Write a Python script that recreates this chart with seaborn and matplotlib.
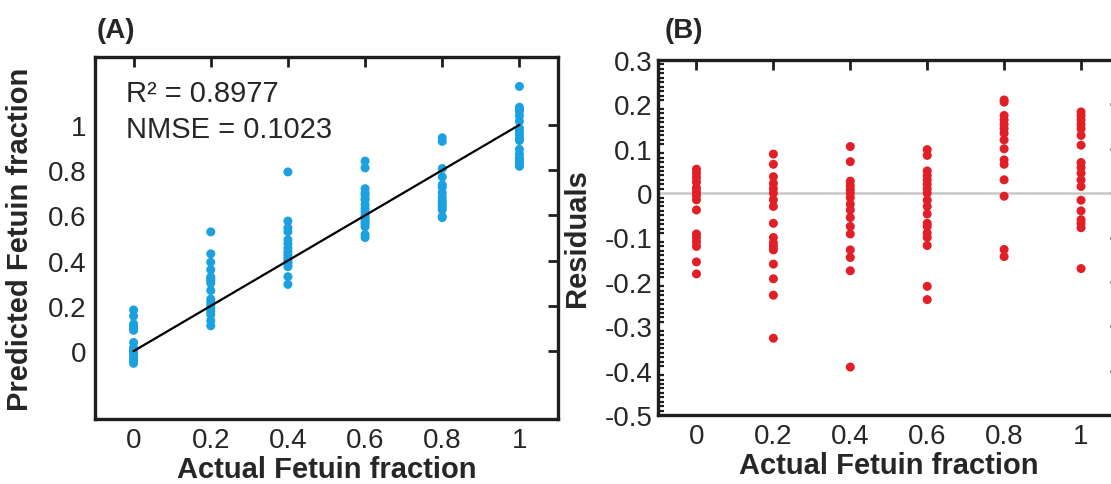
import numpy as np
import pandas as pd
import matplotlib
matplotlib.use("Agg")
import matplotlib.pyplot as plt
from matplotlib.ticker import MultipleLocator, FixedLocator, FuncFormatter
import seaborn as sns

# ---------------- data ----------------
actual_levels = [0.0, 0.2, 0.4, 0.6, 0.8, 1.0]

pred_00 = [-0.054, -0.045, -0.035, -0.025, -0.012, -0.003, 0.005, 0.015, 0.038,
           0.092, 0.10, 0.11, 0.12, 0.155, 0.182]
pred_02 = [0.112, 0.135, 0.163, 0.178, 0.19, 0.2, 0.215, 0.23, 0.268, 0.30,
           0.312, 0.32, 0.328, 0.36, 0.393, 0.43, 0.527]
pred_04 = [0.295, 0.329, 0.373, 0.383, 0.392, 0.40, 0.41, 0.425, 0.438, 0.455,
           0.475, 0.492, 0.528, 0.545, 0.575, 0.792]
pred_06 = [0.502, 0.515, 0.55, 0.56, 0.57, 0.58, 0.59, 0.60, 0.616, 0.63,
           0.647, 0.668, 0.675, 0.69, 0.70, 0.718, 0.81, 0.84]
pred_08 = [0.59, 0.595, 0.625, 0.635, 0.645, 0.655, 0.665, 0.68, 0.70, 0.725,
           0.735, 0.77, 0.807, 0.927, 0.943]
pred_10 = [0.817, 0.825, 0.835, 0.845, 0.855, 0.87, 0.892, 0.931, 0.942, 0.955,
           0.97, 0.985, 1.016, 1.04, 1.06, 1.068, 1.078, 1.17]

res_00 = [0.054, 0.045, 0.035, 0.025, 0.012, 0.003, -0.005, -0.015, -0.038,
          -0.092, -0.10, -0.11, -0.12, -0.155, -0.182]
res_02 = [0.088, 0.065, 0.037, 0.022, 0.01, 0.0, -0.015, -0.03, -0.068, -0.10,
          -0.112, -0.12, -0.128, -0.16, -0.193, -0.23, -0.327]
res_04 = [0.105, 0.071, 0.027, 0.017, 0.008, 0.0, -0.01, -0.025, -0.038, -0.055,
          -0.075, -0.092, -0.128, -0.145, -0.175, -0.392]
res_06 = [0.098, 0.085, 0.05, 0.04, 0.03, 0.02, 0.01, 0.0, -0.016, -0.03,
          -0.047, -0.068, -0.075, -0.09, -0.1, -0.118, -0.21, -0.24]
res_08 = [0.21, 0.205, 0.175, 0.165, 0.155, 0.145, 0.135, 0.12, 0.1, 0.075,
          0.065, 0.03, -0.007, -0.127, -0.143]
res_10 = [0.183, 0.175, 0.165, 0.155, 0.145, 0.13, 0.108, 0.069, 0.058, 0.045,
          0.03, 0.015, -0.016, -0.04, -0.06, -0.068, -0.078, -0.17]

fit_x = [0.0, 1.0]
fit_y = [0.0, 1.0]

x_ticks = [0, 0.2, 0.4, 0.6, 0.8, 1]
ya_ticks = [0, 0.2, 0.4, 0.6, 0.8, 1]
yb_ticks = [-0.5, -0.4, -0.3, -0.2, -0.1, 0, 0.1, 0.2, 0.3]

r2_text = "R\u00b2 = 0.8977"
nmse_text = "NMSE = 0.1023"
xlabel = "Actual Fetuin fraction"
ylabel_a = "Predicted Fetuin fraction"
ylabel_b = "Residuals"

preds = [pred_00, pred_02, pred_04, pred_06, pred_08, pred_10]
ress = [res_00, res_02, res_04, res_06, res_08, res_10]
rows = []
for a, p, r in zip(actual_levels, preds, ress):
    for pv, rv in zip(p, r):
        rows.append({"actual": a, "predicted": pv, "residual": rv})
df = pd.DataFrame(rows)
fit_df = pd.DataFrame({"x": fit_x, "y": fit_y})

# ---------------- style ----------------
sns.set_theme(style="white")
plt.rcParams["font.family"] = ["Liberation Sans", "DejaVu Sans"]
plt.rcParams["axes.unicode_minus"] = False

BLUE = "#1ba1e0"
RED = "#e21f26"
SPINE = "#1e1e1e"

fig = plt.figure(figsize=(11.11, 4.85), dpi=100)
W, H = 1111, 485
axA = fig.add_axes([95 / W, (H - 420) / H, 463 / W, 362 / H])
axB = fig.add_axes([658 / W, (H - 416) / H, 461.5 / W, 355 / H])

fmt = FuncFormatter(lambda v, pos: f"{v:g}")

# Panel A
sns.scatterplot(data=df, x="actual", y="predicted", ax=axA, color=BLUE,
                s=42, edgecolor="none", linewidth=0, zorder=3, legend=False)
sns.lineplot(data=fit_df, x="x", y="y", ax=axA, color="black", linewidth=1.6,
             zorder=4)
axA.set_xlim(-0.1, 1.1)
axA.set_ylim(-0.3, 1.3)
axA.xaxis.set_major_locator(FixedLocator(x_ticks))
axA.yaxis.set_major_locator(FixedLocator(ya_ticks))
axA.xaxis.set_major_formatter(fmt)
axA.yaxis.set_major_formatter(fmt)
axA.text(-0.02, 1.107, r2_text, fontsize=21, va="baseline", ha="left")
axA.text(-0.02, 0.947, nmse_text, fontsize=21, va="baseline", ha="left")
axA.set_ylabel(ylabel_a, fontsize=21, fontweight="bold", labelpad=10)

# Panel B
axB.axhline(0, color="#c8c8c8", linewidth=1.8, zorder=1)
sns.scatterplot(data=df, x="actual", y="residual", ax=axB, color=RED,
                s=42, edgecolor="none", linewidth=0, zorder=3, legend=False)
axB.set_xlim(-0.1, 1.1)
axB.set_ylim(-0.5, 0.3)
axB.xaxis.set_major_locator(FixedLocator(x_ticks))
axB.yaxis.set_major_locator(FixedLocator(yb_ticks))
axB.yaxis.set_minor_locator(MultipleLocator(0.01))
axB.xaxis.set_major_formatter(fmt)
axB.yaxis.set_major_formatter(fmt)
axB.set_ylabel(ylabel_b, fontsize=21, fontweight="bold", labelpad=10)

for ax in (axA, axB):
    ax.set_xlabel(xlabel, fontsize=21, fontweight="bold", labelpad=1)
    for sp in ax.spines.values():
        sp.set_visible(True)
        sp.set_color(SPINE)
        sp.set_linewidth(2.4)
    ax.tick_params(axis="both", which="major", direction="in", length=7.5,
                   width=2.0, color=SPINE, labelsize=20, top=True, right=True,
                   pad=6)
    ax.tick_params(axis="y", which="minor", direction="in", length=4.5,
                   width=1.6, color=SPINE, left=True, right=True)
    ax.grid(False)

axB.tick_params(axis="y", which="major", pad=4)

fig.text(97 / W, 1 - 31 / H, "(A)", fontsize=20, fontweight="bold",
         ha="left", va="center")
fig.text(665 / W, 1 - 31 / H, "(B)", fontsize=20, fontweight="bold",
         ha="left", va="center")

fig.savefig("out.png", dpi=100)
